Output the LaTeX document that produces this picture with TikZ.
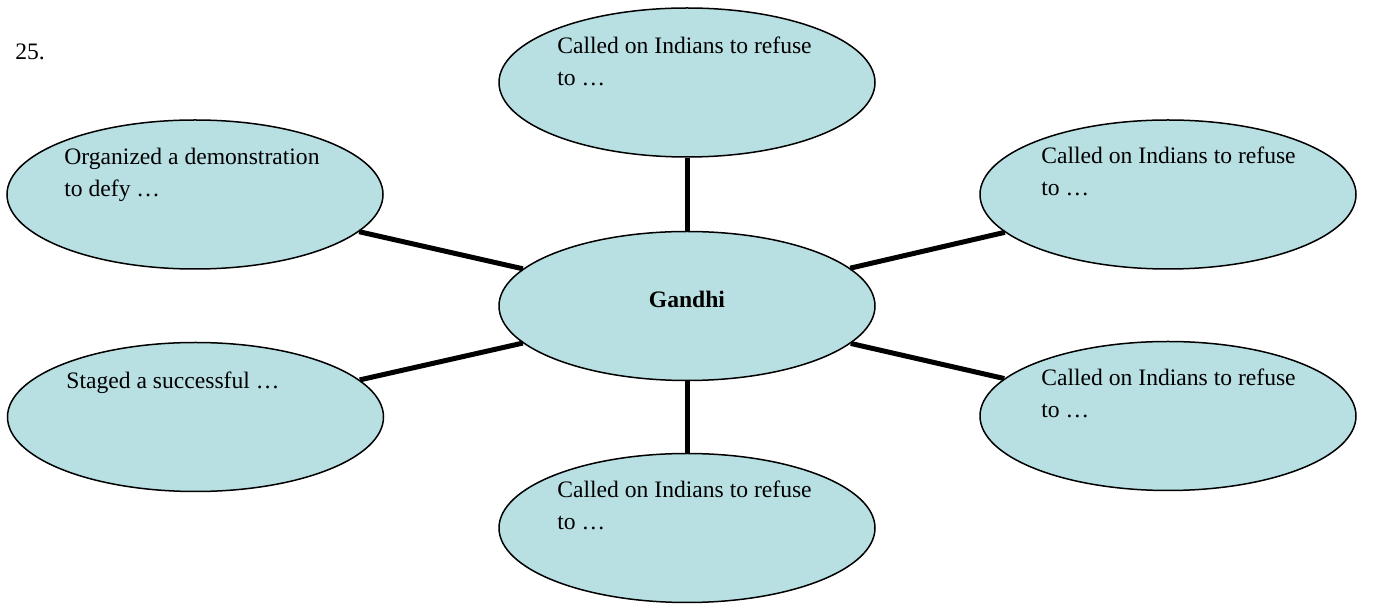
\documentclass[tikz,border=0pt]{standalone}
\usepackage{fontspec}
\setmainfont{Liberation Serif}
\usetikzlibrary{shapes.geometric}
\definecolor{bubblefill}{HTML}{B8DFE2}
\begin{document}
\begin{tikzpicture}[x=0.5pt,y=-0.5pt,
  bubble/.style={ellipse, draw=black, line width=0.75pt, fill=bubblefill,
    minimum width=188pt, minimum height=74.5pt, inner sep=0pt},
  txt/.style={anchor=base west, align=left, inner sep=0pt,
    font=\fontsize{11.8}{16}\selectfont},
  link/.style={line width=2.5pt, draw=black}]
\useasboundingbox (0,0) rectangle (1373,614);
\node[bubble] (top) at (687,82.5) {};
\node[bubble] (center) at (687,306) {};
\node[bubble] (bottom) at (687,528) {};
\node[bubble] (lt) at (195,194.5) {};
\node[bubble] (lb) at (195.5,417) {};
\node[bubble] (rt) at (1168,194.5) {};
\node[bubble] (rb) at (1168,416) {};
\draw[link] (top) -- (center);
\draw[link] (bottom) -- (center);
\draw[link] (lt) -- (center);
\draw[link] (lb) -- (center);
\draw[link] (rt) -- (center);
\draw[link] (rb) -- (center);
\node[txt] (num) at (15,60) {25.};
\node[txt] (ttop) at (557,86) {Called on Indians to refuse\\to …};
\node[txt] (tbottom) at (557,530) {Called on Indians to refuse\\to …};
\node[txt] (trt) at (1041,196) {Called on Indians to refuse\\to …};
\node[txt] (trb) at (1041,418) {Called on Indians to refuse\\to …};
\node[txt] (tlt) at (64,197) {Organized a demonstration\\to defy …};
\node[txt] (tlb) at (66,389) {Staged a successful …};
\node[anchor=base, inner sep=0pt, font=\fontsize{11.8}{16}\selectfont\bfseries] (tcenter) at (687,308) {Gandhi};
\end{tikzpicture}
\end{document}
